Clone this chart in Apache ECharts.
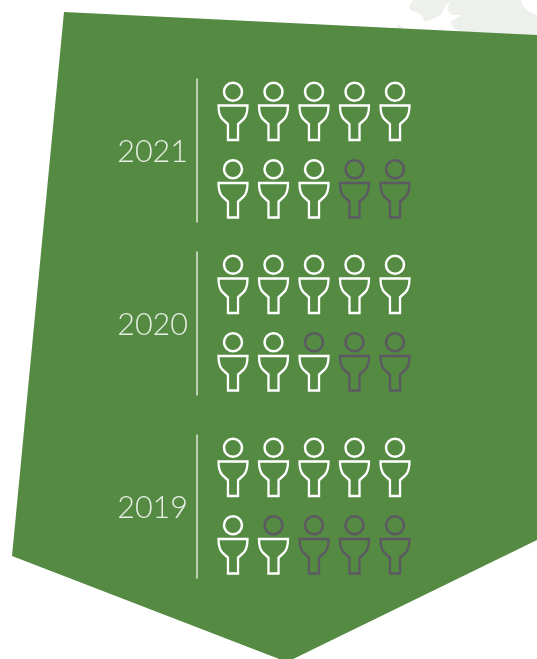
<!DOCTYPE html>
<html>
<head>
<meta charset="utf-8">
<style>
  html, body { margin: 0; padding: 0; background: #fff; }
  #chart { width: 537px; height: 659px; }
</style>
</head>
<body>
<div id="chart"></div>
<script src="https://cdn.jsdelivr.net/npm/echarts@6/dist/echarts.min.js"></script>
<script>
const years = ['2021', '2020', '2019']
// heads and bodies are coloured separately, the counts differ by one in places
const headCounts = [8, 7, 6]
const bodyCounts = [8, 8, 7]
const columns = [0, 1, 2, 3, 4]
const rows = [1, 0]

const gridTops = [79, 252, 435]
const WHITE = '#ffffff'
const GREY = '#5c5962'
const LEAF = '#edf0eb'
const bodyPath = 'path://M0 0H28.5C28.5 6 27.5 11 24.5 14L19.2 19V35H9.3V19L4 14C1 11 0 6 0 0Z'

const chart = echarts.init(document.getElementById('chart'), null, { renderer: 'canvas' })

// top row fills first, then the bottom row, left to right
function splitCells(count) {
  const on = []
  const off = []
  rows.forEach((row, r) => {
    columns.forEach((col, c) => {
      const target = r * columns.length + c < count ? on : off
      target.push([col, row])
    })
  })
  return { on, off }
}

function partSeries(gridIndex, part, cells, color) {
  return {
    type: 'scatter',
    xAxisIndex: gridIndex,
    yAxisIndex: gridIndex,
    silent: true,
    symbol: part === 'head' ? 'circle' : bodyPath,
    symbolSize: part === 'head' ? 18 : [29, 34.5],
    symbolOffset: part === 'head' ? [0, -20] : [0, 11],
    data: cells,
    itemStyle: { color: 'transparent', borderColor: color, borderWidth: 2.5, opacity: 1 }
  }
}

const series = []
years.forEach((year, i) => {
  const heads = splitCells(headCounts[i])
  const bodies = splitCells(bodyCounts[i])
  series.push(partSeries(i, 'head', heads.on, WHITE))
  series.push(partSeries(i, 'head', heads.off, GREY))
  series.push(partSeries(i, 'body', bodies.on, WHITE))
  series.push(partSeries(i, 'body', bodies.off, GREY))
})

chart.setOption({
  animation: false,
  backgroundColor: '#ffffff',
  graphic: [
    { type: 'polygon', z: -10, silent: true, shape: { points: [[409, 7], [413, 0], [452, 0], [446, 5], [441, 15], [437, 17], [425, 22], [422, 15], [410, 10]] }, style: { fill: LEAF } },
    { type: 'polygon', z: -10, silent: true, shape: { points: [[452, 0], [521, 0], [523, 6], [528, 11], [537, 15], [537, 36], [460, 32], [452, 26], [451, 21], [462, 15], [452, 15], [447, 10], [449, 4]] }, style: { fill: LEAF } },
    { type: 'polygon', z: -10, silent: true, shape: { points: [[397, 25], [400, 25], [404, 29], [397, 29]] }, style: { fill: LEAF } },
    { type: 'polygon', z: -9, silent: true, shape: { points: [[64, 12], [537, 35], [537, 540], [287, 662], [12, 556]] }, style: { fill: '#548a42' } }
  ],
  grid: gridTops.map(top => ({ left: 197, top: top, width: 218, height: 143 })),
  xAxis: years.map((_, i) => ({
    type: 'value',
    gridIndex: i,
    min: -0.889,
    max: 4.494,
    show: false
  })),
  yAxis: years.map((year, i) => ({
    type: 'value',
    gridIndex: i,
    min: -0.4226,
    max: 1.4226,
    name: '{y|' + year + '}',
    nameLocation: 'middle',
    nameRotate: 0,
    nameGap: 9,
    nameTextStyle: {
      align: 'right',
      verticalAlign: 'middle',
      rich: {
        y: {
          color: '#e8efe6',
          fontFamily: 'Lato',
          fontWeight: 300,
          fontSize: 30.5,
          padding: [3, 0, 0, 0]
        }
      }
    },
    axisLine: { show: true, onZero: false, lineStyle: { color: '#dfe8da', width: 1.5 } },
    axisTick: { show: false },
    axisLabel: { show: false },
    splitLine: { show: false }
  })),
  series: series
})

window.addEventListener('resize', () => chart.resize())
</script>
</body>
</html>
